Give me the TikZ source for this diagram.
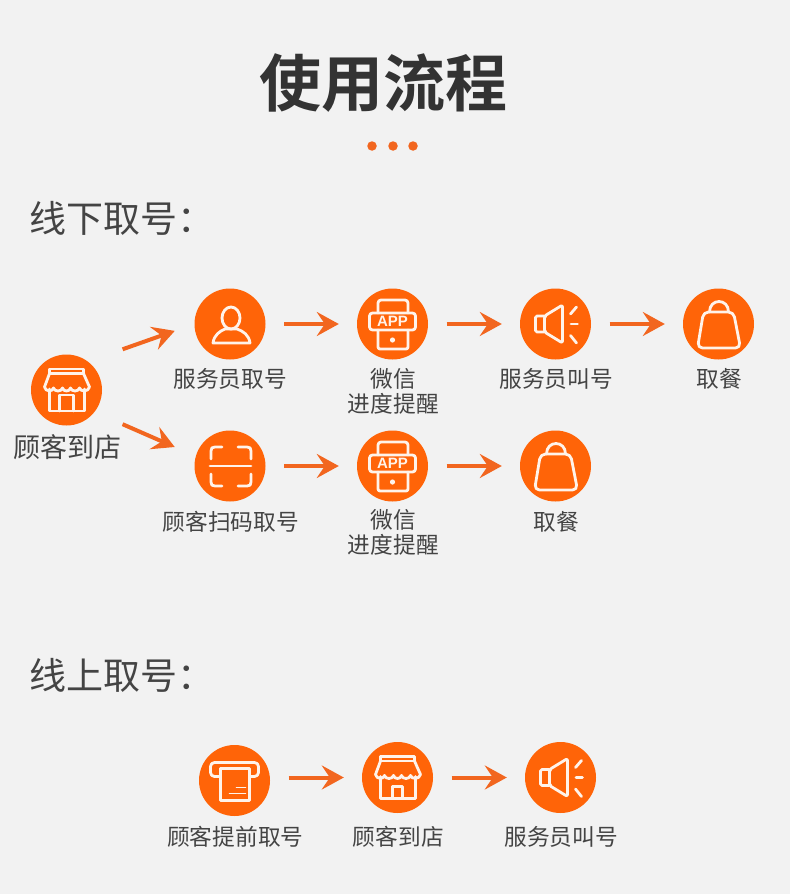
\documentclass[tikz,border=0pt]{standalone}
\usepackage{fontspec}
\setmainfont{Noto Sans CJK SC}[BoldFont={* Bold}]
\newfontfamily\latinb{Liberation Sans}
\usetikzlibrary{arrows.meta,calc}
\definecolor{bgc}{HTML}{F2F2F2}
\definecolor{orangec}{HTML}{FF6408}
\definecolor{arrc}{HTML}{F2661F}
\definecolor{txtc}{HTML}{444444}
\definecolor{titc}{HTML}{333333}
\definecolor{iconc}{HTML}{FFF3EA}
\tikzset{
  disc/.style={circle,fill=orangec,minimum size=71pt,inner sep=0pt},
  lbl/.style={text=txtc,inner sep=0pt,align=center,xshift=0.8pt,font=\fontsize{22.7}{25}\selectfont},
  bigl/.style={text=txtc,inner sep=0pt,xshift=0.8pt,font=\fontsize{27}{30}\selectfont},
  head/.style={text=txtc,inner sep=0pt,anchor=west,font=\fontsize{37}{40}\selectfont},
  titlet/.style={text=titc,inner sep=0pt,font=\fontsize{62}{66}\selectfont\bfseries},
  dotm/.style={circle,fill=arrc,minimum size=9.5pt,inner sep=0pt},
  arr/.style={draw=arrc,line width=4pt,-{Stealth[length=22pt,width=24pt,inset=8pt]}},
  flow/.style={arr,shorten <=18.5pt,shorten >=18pt},
  ico/.style={draw=iconc,line width=2.8pt,line cap=round,line join=round},
  pics/shopicon/.style 2 args={code={
    \draw[ico] (-17,-21) rectangle (17,-16.5);
    \draw[ico] (-17,-16.5) -- (-22,-3) .. controls (-21,2) and (-14,2) .. (-13,-2)
      .. controls (-12,2) and (-5,2) .. (-4,-2) .. controls (-3,2) and (3,2) .. (4,-2)
      .. controls (5,2) and (12,2) .. (13,-2) .. controls (14,2) and (22,2) .. (23,-3) -- (17,-16.5);
    \draw[ico] (-17,-1) -- (-17,21) -- (18,21) -- (18,-1);
    \draw[ico] (-#1,21) -- (-#1,#2) -- (#1,#2) -- (#1,21);
  }},
  pics/personicon/.style={code={
    \draw[ico] (1,-6) ellipse (9 and 11);
    \draw[ico] (-17,19) .. controls (-16,11) and (-10,7) .. (-5,5) -- (7,5) .. controls (13,7) and (19,11) .. (20,19) -- cycle;
  }},
  pics/scanicon/.style={code={
    \draw[ico] (-8,-19) -- (-15,-19) .. controls (-18,-19) and (-19,-18) .. (-19,-15) -- (-19,-7);
    \draw[ico] (8,-19) -- (17,-19) .. controls (20,-19) and (21,-18) .. (21,-15) -- (21,-7);
    \draw[ico] (-8,20) -- (-15,20) .. controls (-18,20) and (-19,19) .. (-19,16) -- (-19,8);
    \draw[ico] (8,20) -- (17,20) .. controls (20,20) and (21,19) .. (21,16) -- (21,8);
    \draw[ico] (-20,0) -- (21,0);
  }},
  pics/appicon/.style={code={
    \draw[ico,rounded corners=3pt] (-14.5,-11) -- (-14.5,-24) -- (15.5,-24) -- (15.5,-11);
    \draw[ico,rounded corners=3pt] (-23,-11) rectangle (23,6);
    \draw[ico,rounded corners=2pt] (-14.5,6) -- (-14.5,25) -- (15.5,25) -- (15.5,6);
    \fill[iconc] (0,16) circle (2.6);
    \node[text=iconc,inner sep=0pt,font=\latinb\fontsize{15}{15}\selectfont\bfseries] (apptext) at (0,-2.5) {APP};
  }},
  pics/speakericon/.style={code={
    \draw[ico,rounded corners=1.5pt] (-11,-8) -- (-20,-8) -- (-20,8) -- (-11,8);
    \draw[ico,rounded corners=2pt] (-11,-8) -- (7,-19) -- (7,19) -- (-11,8) -- cycle;
    \draw[ico] (15,-10) -- (21,-17);
    \draw[ico] (15.5,0) -- (22,0);
    \draw[ico] (15,11.5) -- (21,19);
  }},
  pics/bagicon/.style={code={
    \draw[ico,rounded corners=5pt] (-15,-12) -- (15,-12) -- (22,24) -- (-21,24) -- cycle;
    \draw[ico] (-9,-12) .. controls (-9,-26) and (10,-26) .. (10,-12);
  }},
  pics/ticketicon/.style={code={
    \draw[ico,rounded corners=4pt] (-14,-4) -- (-24,-4) -- (-24,-18) -- (24,-18) -- (24,-4) -- (15,-4);
    \draw[ico] (-14,-12) -- (15,-12) -- (15,20) -- (-14,20) -- cycle;
    \draw[ico,line width=1.6pt] (2,7) -- (11,7);
    \draw[ico,line width=1.6pt] (-5,13) -- (11,13);
  }},
}
\begin{document}
\begin{tikzpicture}[x=1pt,y=-1pt]
\useasboundingbox (0,0) rectangle (790,894);
\fill[bgc] (0,0) rectangle (790,894);
% title
\node[titlet] (title) at (383,83) {使用流程};
\node[dotm] (d1) at (372,146) {};
\node[dotm] (d2) at (393,146) {};
\node[dotm] (d3) at (413,146) {};
\node[head] (h1) at (29,218) {线下取号：};
\node[head] (h2) at (29,675) {线上取号：};
% discs
\node[disc] (shop) at (66.5,390) {};
\node[disc] (sa) at (230,324) {};
\node[disc] (ap1) at (392.5,324) {};
\node[disc] (sp1) at (555.5,324) {};
\node[disc] (bg1) at (718.5,324) {};
\node[disc] (sb) at (230,466) {};
\node[disc] (ap2) at (392.5,466) {};
\node[disc] (bg2) at (555.5,466) {};
\node[disc] (tk) at (234.5,780.5) {};
\node[disc] (shop2) at (397.5,777.5) {};
\node[disc] (sp2) at (560.5,777.5) {};
% icons
\pic at (shop) {shopicon={7}{5}};
\pic at (sa) {personicon};
\pic at (ap1) {appicon};
\pic at (sp1) {speakericon};
\pic at (bg1) {bagicon};
\pic at (sb) {scanicon};
\pic at (ap2) {appicon};
\pic at (bg2) {bagicon};
\pic at (tk) {ticketicon};
\pic at (shop2) {shopicon={5}{9}};
\pic at (sp2) {speakericon};
% labels
\node[bigl] (lshop) at (66.5,447) {顾客到店};
\node[lbl] (lsa) at (229.5,379) {服务员取号};
\node[lbl] (lap1) at (392.5,391.5) {微信\\进度提醒};
\node[lbl] (lsp1) at (555.5,379) {服务员叫号};
\node[lbl] (lbg1) at (718.5,379) {取餐};
\node[lbl] (lsb) at (230,522) {顾客扫码取号};
\node[lbl] (lap2) at (392.5,532.5) {微信\\进度提醒};
\node[lbl] (lbg2) at (555.5,522) {取餐};
\node[lbl] (ltk) at (234.5,837) {顾客提前取号};
\node[lbl] (lshop2) at (397.5,837) {顾客到店};
\node[lbl] (lsp2) at (560.5,837) {服务员叫号};
% connectors
\draw[arr,shorten <=36.7pt,shorten >=20.7pt] (shop.53) -- (sa.180);
\draw[arr,shorten <=30.5pt,shorten >=22.9pt] (shop.-38) -- (sb.164);
\draw[flow] (sa) -- (ap1);
\draw[flow] (ap1) -- (sp1);
\draw[flow] (sp1) -- (bg1);
\draw[flow] (sb) -- (ap2);
\draw[flow] (ap2) -- (bg2);
\draw[flow] (tk.east |- shop2.center) -- (shop2);
\draw[flow] (shop2) -- (sp2);
\end{tikzpicture}
\end{document}
